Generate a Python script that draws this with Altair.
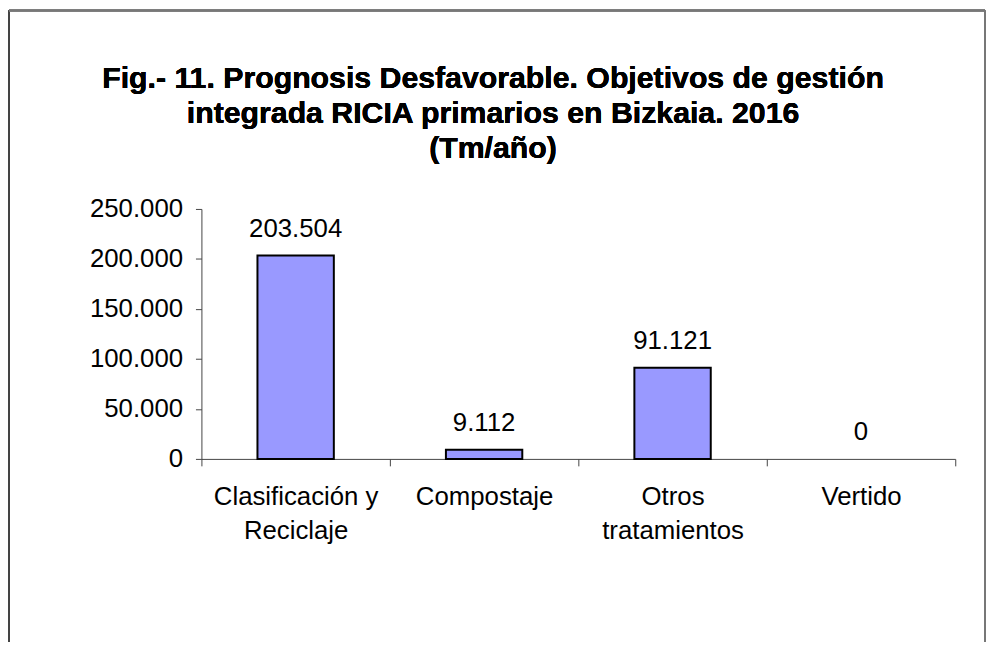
import altair as alt
import pandas as pd

categories = ["Clasificación y\nReciclaje", "Compostaje", "Otros\ntratamientos", "Vertido"]
values = [203504, 9112, 91121, 0]
title_lines = ["Fig.- 11. Prognosis Desfavorable. Objetivos de gestión",
               "integrada RICIA primarios en Bizkaia. 2016",
               "(Tm/año)"]
y_ticks = [0, 50000, 100000, 150000, 200000, 250000]

df = pd.DataFrame({"cat": categories, "val": values})
FONT = "Liberation Sans"
FS = 26

x_enc = alt.X("cat:N", sort=categories, title=None,
              scale=alt.Scale(paddingInner=0, paddingOuter=0),
              axis=alt.Axis(labelAngle=0, tickBand="extent",
                            labelExpr="split(datum.label, '\\n')",
                            labelFontSize=FS, labelFont=FONT, labelColor="black",
                            labelLineHeight=34, labelPadding=18,
                            domainColor="#444", tickColor="#444", tickSize=7,
                            labelBaseline="top"))

base = alt.Chart(df)

bars = base.mark_bar(size=77, fill="#9999FF", stroke="black", strokeWidth=2).encode(
    x=x_enc,
    y=alt.Y("val:Q", title=None,
            scale=alt.Scale(domain=[0, 250000], nice=False),
            axis=alt.Axis(values=y_ticks, grid=False,
                          labelExpr="replace(format(datum.value, ','), regexp(',', 'g'), '.')",
                          labelFontSize=FS, labelFont=FONT, labelColor="black",
                          domainColor="#444", tickColor="#444", tickSize=6, labelPadding=13)),
    strokeOpacity=alt.condition("datum.val > 0", alt.value(1), alt.value(0)),
)

labels = base.transform_calculate(
    lbl="replace(format(datum.val, ','), regexp(',', 'g'), '.')"
).mark_text(baseline="alphabetic", dy=-19, fontSize=FS, font=FONT, color="black").encode(
    x=alt.X("cat:N", sort=categories),
    y="val:Q",
    text="lbl:N",
)

title = base.mark_text(text=title_lines, fontSize=30.5, font=FONT, fontWeight="bold",
                       color="black", align="center", baseline="alphabetic",
                       lineHeight=35.5).encode(
    x=alt.value(294), y=alt.value(-122))

frame_left = base.mark_rule(color="#444", strokeWidth=2).encode(
    x=alt.value(-194), y=alt.value(-200), y2=alt.value(500))
frame_top = base.mark_rule(color="#777", strokeWidth=2).encode(
    x=alt.value(-194), x2=alt.value(790), y=alt.value(-200))
frame_right = base.mark_rule(color="#777", strokeWidth=2).encode(
    x=alt.value(790), y=alt.value(-200), y2=alt.value(500))

chart = alt.layer(bars, labels, title, frame_left, frame_top, frame_right).properties(
    width=760, height=252,
    autosize=alt.AutoSizeParams(type="none"),
    padding={"left": 195, "top": 200, "right": 31, "bottom": 182},
).configure_view(stroke=None)

chart.save("out.html", embed_options={"renderer": "svg", "actions": False})
